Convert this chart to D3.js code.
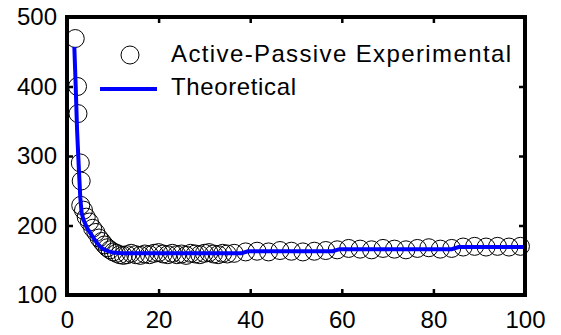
<!DOCTYPE html>
<html>
<head>
<meta charset="utf-8">
<script src="https://cdn.jsdelivr.net/npm/d3@7"></script>
<style>
  body { margin: 0; background: #fff; }
  text { font-family: Arial, "Liberation Sans", sans-serif; }
</style>
</head>
<body>
<div class="center"></div>
<script>
// chart values
var expX = [1.8, 2.3, 2.4, 2.9, 3.1, 3.0, 3.6, 4.2, 4.9, 5.6, 6.3, 7.0, 7.6, 8.2, 8.8, 9.4,
    10.1, 10.8, 11.5, 12.3, 13.1, 14.0, 15.0, 16.0, 17.0, 18.0, 19.0, 20.0, 21.0, 22.0,
    23.0, 24.0, 25.0, 26.0, 27.0, 28.0, 29.0, 30.0, 31.0, 32.0, 33.0, 34.0, 35.0, 36.5,
    39, 41.5, 44, 46.5, 49, 51.5, 54, 56.5, 59, 61.5, 64, 66.5, 69, 71.5, 74, 76.5, 79,
    81.5, 84, 86.5, 89, 91.5, 94, 96.5, 99];
var expY = [469, 400, 361, 290, 264, 229, 222, 212, 205, 196, 190, 182, 177, 172, 168, 165,
    162, 160, 158, 157, 158, 160, 158, 157, 159, 158, 160, 161, 159, 158,
    160, 158, 159, 157, 160, 159, 158, 160, 161, 159, 158, 160, 159, 160,
    162, 163, 162, 164, 163, 162, 163, 164, 165, 167, 166, 165, 167, 166, 165, 167, 168,
    166, 167, 169, 170, 169, 170, 169, 170];

var theoX = [1.6, 1.9, 2.2, 2.6, 2.9, 3.2, 3.6, 4.5, 5.5, 6.5, 7.5, 8.5, 10, 12, 38, 39.5, 58, 59.5, 84, 85.5, 100];
var theoY = [457, 400, 337, 280, 240, 218, 208, 195, 185, 175, 168, 164, 161, 160, 160, 163, 163, 166, 166, 169, 169];

var xTicks = [0, 20, 40, 60, 80, 100];
var yTicks = [100, 200, 300, 400, 500];
var legendLabels = ["Active-Passive Experimental", "Theoretical"];

var margin = {top: 17, right: 36, bottom: 40, left: 67},
    width = 561 - margin.left - margin.right,
    height = 335 - margin.top - margin.bottom;

var x = d3.scaleLinear().domain([0, 100]).range([0, width]);
var y = d3.scaleLinear().domain([100, 500]).range([height, 0]);

var svg = d3.select(".center").append("svg")
    .attr("width", 561)
    .attr("height", 335)
    .append("g")
    .attr("transform", "translate(" + margin.left + "," + margin.top + ")");

// experimental circles
var pts = expX.map(function(d, i) { return {x: d, y: expY[i]}; });
svg.selectAll("circle.exp")
    .data(pts)
    .enter().append("circle")
    .attr("class", "exp")
    .attr("cx", function(d) { return x(d.x); })
    .attr("cy", function(d) { return y(d.y); })
    .attr("r", 9)
    .style("fill", "none")
    .style("stroke", "#000")
    .style("stroke-width", 1);

// theoretical line
var line = d3.line()
    .x(function(d) { return x(d[0]); })
    .y(function(d) { return y(d[1]); });

svg.append("path")
    .datum(theoX.map(function(d, i) { return [d, theoY[i]]; }))
    .attr("d", line)
    .style("fill", "none")
    .style("stroke", "#0000ff")
    .style("stroke-width", 4);

// axes, ticks pointing inward
function styleAxis(g) {
    g.select(".domain").remove();
    g.selectAll(".tick line").style("stroke", "#000").style("stroke-width", 2.5);
    g.selectAll(".tick text").style("font-size", "24px").style("fill", "#000");
}

svg.append("g")
    .attr("transform", "translate(0," + height + ")")
    .call(d3.axisBottom(x).tickValues(xTicks).tickSize(-6).tickPadding(16))
    .call(styleAxis);

svg.append("g")
    .call(d3.axisLeft(y).tickValues(yTicks).tickSize(-6).tickPadding(10))
    .call(styleAxis);

svg.append("g")
    .call(d3.axisTop(x).tickValues(xTicks).tickSize(-6).tickFormat(""))
    .call(styleAxis);

svg.append("g")
    .attr("transform", "translate(" + width + ",0)")
    .call(d3.axisRight(y).tickValues(yTicks).tickSize(-6).tickFormat(""))
    .call(styleAxis);

// box
svg.append("rect")
    .attr("width", width)
    .attr("height", height)
    .style("fill", "none")
    .style("stroke", "#000")
    .style("stroke-width", 4);

// legend
var legend = svg.append("g").attr("class", "legend");

legend.append("circle")
    .attr("cx", 63)
    .attr("cy", 38)
    .attr("r", 9)
    .style("fill", "none")
    .style("stroke", "#000")
    .style("stroke-width", 1);

legend.append("line")
    .attr("x1", 33)
    .attr("x2", 90)
    .attr("y1", 72)
    .attr("y2", 72)
    .style("stroke", "#0000ff")
    .style("stroke-width", 4);

var legendWidths = [340, 125];
legend.selectAll("text")
    .data(legendLabels)
    .enter().append("text")
    .attr("x", 104)
    .attr("y", function(d, i) { return 45 + i * 33; })
    .attr("textLength", function(d, i) { return legendWidths[i]; })
    .attr("lengthAdjust", "spacing")
    .style("font-size", "24px")
    .text(function(d) { return d; });
</script>
</body>
</html>
